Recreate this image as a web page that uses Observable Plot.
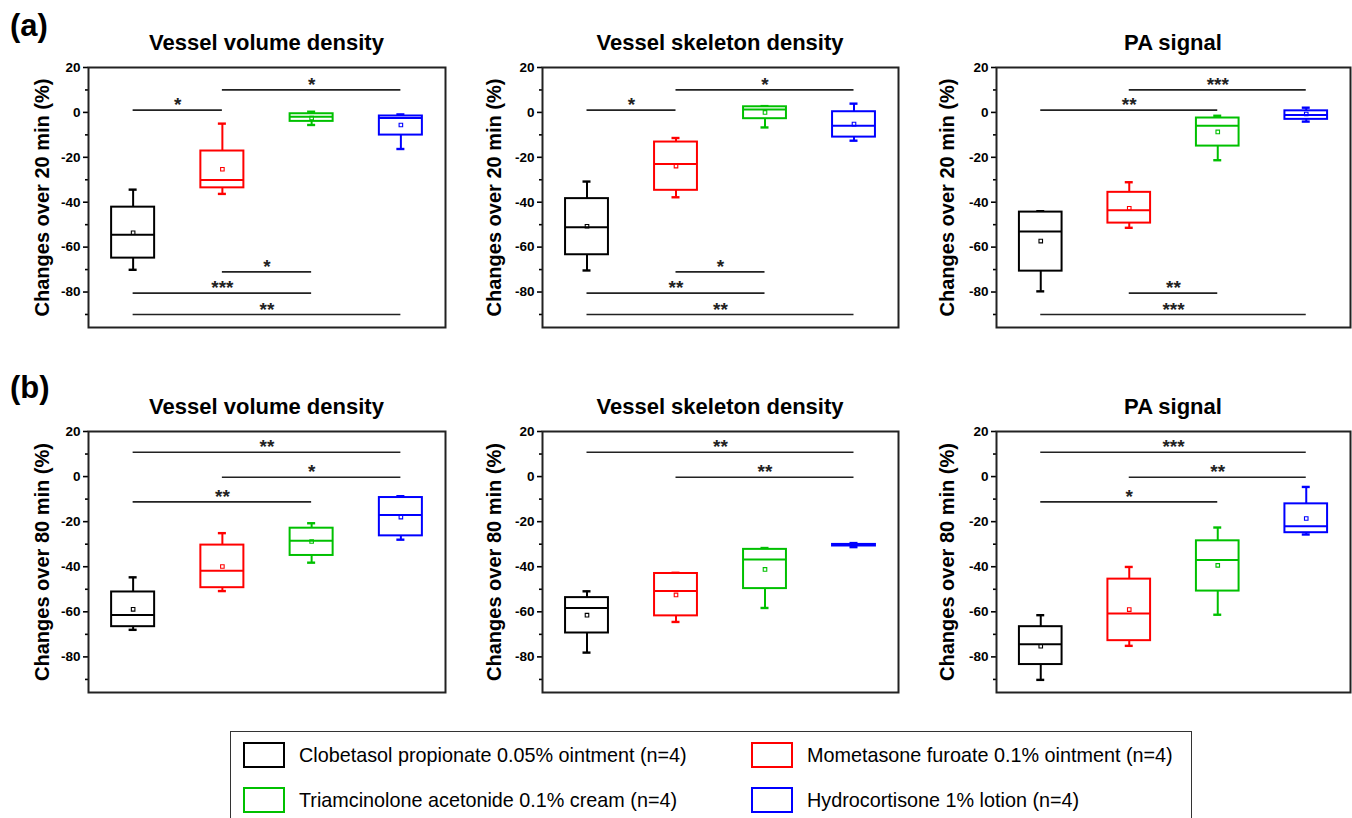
<!DOCTYPE html>
<html><head><meta charset="utf-8">
<script src="https://cdn.jsdelivr.net/npm/d3@7"></script>
<script src="https://cdn.jsdelivr.net/npm/@observablehq/plot@0.6"></script>
<style>
body{margin:0;background:#fff;width:1352px;height:818px;position:relative;overflow:hidden;font-family:"Liberation Sans",Arial,sans-serif;color:#000}
.abs{position:absolute}
.title{position:absolute;font-weight:bold;font-size:22px;line-height:22px;text-align:center;white-space:nowrap;width:420px}
.tag{position:absolute;font-weight:bold;font-size:31px;line-height:31px;white-space:nowrap}
.legend{position:absolute;left:230px;top:731px;width:962px;height:110px;border:1.5px solid #333;box-sizing:border-box}
.sw{position:absolute;width:42px;height:26px;border:2px solid;box-sizing:border-box}
.lt{position:absolute;font-size:19.8px;line-height:26px;white-space:nowrap}
</style>
</head><body>
<script>
// ---- data ----
const groups = [
  "Clobetasol propionate 0.05% ointment (n=4)",
  "Mometasone furoate 0.1% ointment (n=4)",
  "Triamcinolone acetonide 0.1% cream (n=4)",
  "Hydrocortisone 1% lotion (n=4)"
];
const groupColors = ["#000000", "#ff0000", "#00c000", "#0000ff"];
const panelTitles = ["Vessel volume density", "Vessel skeleton density", "PA signal"];
const rowTags = ["(a)", "(b)"];
const rowLabels = ["Changes over 20 min (%)", "Changes over 80 min (%)"];
const majorTicks = [20, 0, -20, -40, -60, -80];
const minorTicks = [10, -10, -30, -50, -70, -90];

// per group: [min, q1, median, q3, max, mean]
const volume20 = [[-70.1,-64.9,-54.5,-42.2,-34.4,-53.6],[-36.3,-33.6,-30.1,-17.2,-5.0,-25.3],[-5.6,-4.0,-1.9,-0.6,0.3,-2.5],[-16.3,-10.1,-2.5,-1.6,-0.9,-5.6]];
const skeleton20 = [[-70.4,-63.4,-51.1,-38.4,-30.8,-50.7],[-37.8,-34.7,-23.0,-13.2,-11.4,-23.9],[-6.7,-2.8,1.3,2.5,2.8,0.0],[-12.6,-11.0,-5.9,0.3,3.9,-5.2]];
const pa20 = [[-79.7,-70.7,-53.0,-44.4,-44.0,-57.3],[-51.4,-49.3,-43.6,-35.6,-31.1,-42.7],[-21.3,-15.0,-5.9,-2.5,-1.5,-8.7],[-4.1,-3.1,-1.2,0.7,2.1,-0.7]];
const volume80 = [[-68.0,-66.6,-61.4,-51.2,-44.7,-58.9],[-50.8,-49.3,-41.8,-30.4,-25.1,-39.9],[-38.2,-35.0,-28.5,-22.9,-20.7,-28.8],[-28.0,-26.3,-17.1,-9.3,-8.7,-18.0]];
const skeleton80 = [[-78.1,-69.4,-58.3,-53.7,-50.9,-61.5],[-64.5,-61.8,-50.8,-43.0,-42.7,-52.5],[-58.3,-49.7,-36.8,-32.3,-31.7,-41.2],[-31.3,-30.8,-30.4,-30.1,-29.5,-30.2]];
const pa80 = [[-90.2,-83.4,-74.4,-66.6,-61.5,-75.3],[-75.1,-72.8,-60.7,-45.5,-40.1,-59.0],[-61.3,-50.8,-37.0,-28.5,-22.6,-39.4],[-25.7,-24.9,-22.0,-12.1,-4.6,-18.6]];

// significance: [fromGroup, toGroup, value, label]
const volume20Sig = [[0,1,1,"*"],[1,3,10,"*"],[1,2,-71,"*"],[0,2,-80.5,"***"],[0,3,-90,"**"]];
const skeleton20Sig = [[0,1,1,"*"],[1,3,10,"*"],[1,2,-71,"*"],[0,2,-80.5,"**"],[0,3,-90,"**"]];
const pa20Sig = [[0,2,1,"**"],[1,3,10,"***"],[1,2,-80.5,"**"],[0,3,-90,"***"]];
const volume80Sig = [[0,3,10.8,"**"],[1,3,-0.3,"*"],[0,2,-11.2,"**"]];
const skeleton80Sig = [[0,3,10.8,"**"],[1,3,-0.3,"**"]];
const pa80Sig = [[0,3,10.8,"***"],[1,3,-0.3,"**"],[0,2,-11.2,"*"]];

// ---- layout ----
const rows = [
  {top: 55, height: 280, titleTop: 32.2, tagTop: 9.7, panels: [volume20, skeleton20, pa20], sigs: [volume20Sig, skeleton20Sig, pa20Sig]},
  {top: 419, height: 281, titleTop: 395.7, tagTop: 372, panels: [volume80, skeleton80, pa80], sigs: [volume80Sig, skeleton80Sig, pa80Sig]}
];
const cols = [
  {left: 0, width: 450, ml: 88, mr: 5, labelDx: -46},
  {left: 450, width: 450, ml: 92, mr: 2, labelDx: -48},
  {left: 900, width: 452, ml: 96, mr: 2, labelDx: -49}
];
const BOX = 0.241, CAP = 0.045;

function panel(stats, sig, yLabel, w, h, ml, mr, labelDx) {
  const col = (d, i) => groupColors[i];
  return Plot.plot({
    width: w, height: h,
    marginLeft: ml, marginRight: mr, marginTop: 12, marginBottom: 8,
    style: {fontFamily: "'Liberation Sans', Arial, sans-serif", background: "transparent", overflow: "visible", color: "#000"},
    x: {domain: [-0.5, 3.5], axis: null},
    y: {domain: [-95.8, 20]},
    marks: [
      Plot.axisY(majorTicks, {tickSize: 5, tickPadding: 3, strokeWidth: 1.6, tickFormat: d => String(d), fontSize: 13.5, fontWeight: "bold", label: null}),
      Plot.axisY(minorTicks, {tickSize: 3, strokeWidth: 1.6, tickFormat: () => "", label: null}),
      Plot.text([yLabel], {frameAnchor: "left", textAnchor: "middle", rotate: -90, dx: labelDx, text: d => d, fontSize: 20, fontWeight: "bold"}),
      // significance bars
      Plot.ruleY(sig, {y: d => d[2], x1: d => d[0], x2: d => d[1], stroke: "#222", strokeWidth: 1.7}),
      Plot.text(sig, {x: d => (d[0] + d[1]) / 2, y: d => d[2], text: d => d[3], dy: -5, fontSize: 19, fontWeight: "bold", fill: "#222"}),
      // whiskers
      Plot.ruleX(stats, {x: (d, i) => i, y1: d => d[0], y2: d => d[1], stroke: col, strokeWidth: 2}),
      Plot.ruleX(stats, {x: (d, i) => i, y1: d => d[3], y2: d => d[4], stroke: col, strokeWidth: 2}),
      Plot.ruleY(stats, {y: d => d[0], x1: (d, i) => i - CAP, x2: (d, i) => i + CAP, stroke: col, strokeWidth: 2.4}),
      Plot.ruleY(stats, {y: d => d[4], x1: (d, i) => i - CAP, x2: (d, i) => i + CAP, stroke: col, strokeWidth: 2.4}),
      // boxes
      Plot.rect(stats, {x1: (d, i) => i - BOX, x2: (d, i) => i + BOX, y1: d => d[1], y2: d => d[3], fill: "white", stroke: col, strokeWidth: 2}),
      Plot.ruleY(stats, {y: d => d[2], x1: (d, i) => i - BOX, x2: (d, i) => i + BOX, stroke: col, strokeWidth: 2}),
      Plot.dot(stats, {x: (d, i) => i, y: d => d[5], symbol: "square", r: 2, stroke: col, strokeWidth: 1.1, fill: "none"}),
      Plot.frame({stroke: "#222", strokeWidth: 2})
    ]
  });
}

rows.forEach((row, ri) => {
  const tag = document.createElement("div");
  tag.className = "tag"; tag.textContent = rowTags[ri];
  tag.style.left = "10px"; tag.style.top = row.tagTop + "px";
  document.body.appendChild(tag);
  cols.forEach((c, ci) => {
    const svg = panel(row.panels[ci], row.sigs[ci], rowLabels[ri], c.width, row.height, c.ml, c.mr, c.labelDx);
    const holder = document.createElement("div");
    holder.className = "abs";
    holder.style.left = c.left + "px"; holder.style.top = row.top + "px";
    holder.appendChild(svg);
    document.body.appendChild(holder);
    const t = document.createElement("div");
    t.className = "title"; t.textContent = panelTitles[ci];
    const cx = c.left + c.ml + (c.width - c.ml - c.mr) / 2;
    t.style.left = (cx - 210) + "px"; t.style.top = row.titleTop + "px";
    document.body.appendChild(t);
  });
});

// legend
const lg = document.createElement("div");
lg.className = "legend";
document.body.appendChild(lg);
const legPos = [[12, 10], [520, 10], [12, 55], [520, 55]];
groups.forEach((g, i) => {
  const sw = document.createElement("div");
  sw.className = "sw"; sw.style.borderColor = groupColors[i];
  sw.style.left = legPos[i][0] + "px"; sw.style.top = legPos[i][1] + "px";
  lg.appendChild(sw);
  const t = document.createElement("div");
  t.className = "lt"; t.textContent = g;
  t.style.left = (legPos[i][0] + 56) + "px"; t.style.top = legPos[i][1] + "px";
  lg.appendChild(t);
});
</script>
</body></html>
